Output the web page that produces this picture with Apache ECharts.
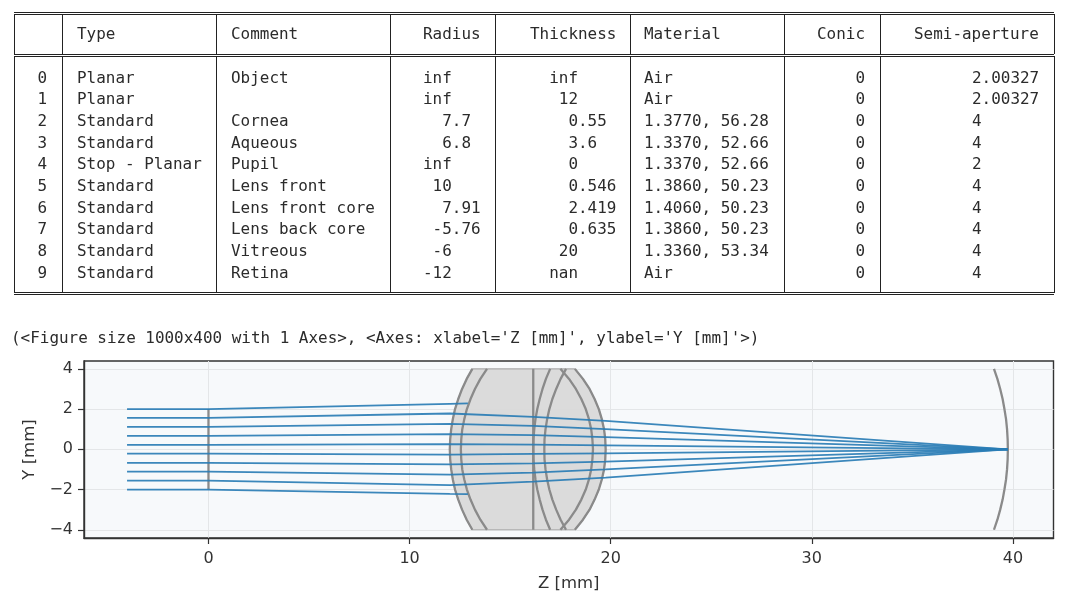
<!DOCTYPE html>
<html>
<head>
<meta charset="utf-8">
<style>
  html, body { margin: 0; padding: 0; background: #fff; }
  #chart { width: 1075px; height: 602px; }
</style>
<script src="https://cdn.jsdelivr.net/npm/echarts@6/dist/echarts.min.js"></script>
</head>
<body>
<div id="chart"></div>
<script>
// table text, padded the way the notebook printed it
var headers = ['Type', 'Comment', 'Radius', 'Thickness', 'Material', 'Conic', 'Semi-aperture'];
var rowIndex = ['0', '1', '2', '3', '4', '5', '6', '7', '8', '9'];
var types = ['Planar', 'Planar', 'Standard', 'Standard', 'Stop - Planar', 'Standard', 'Standard', 'Standard', 'Standard', 'Standard'];
var comments = ['Object', '', 'Cornea', 'Aqueous', 'Pupil', 'Lens front', 'Lens front core', 'Lens back core', 'Vitreous', 'Retina'];
var radii = ['inf', 'inf', '  7.7', '  6.8', 'inf', ' 10', '  7.91', ' -5.76', ' -6', '-12'];
var thicknesses = ['  inf', '   12', '    0.55', '    3.6', '    0', '    0.546', '    2.419', '    0.635', '   20', '  nan'];
var materials = ['Air', 'Air', '1.3770, 56.28', '1.3370, 52.66', '1.3370, 52.66', '1.3860, 50.23', '1.4060, 50.23', '1.3860, 50.23', '1.3360, 53.34', 'Air'];
var conics = ['0', '0', '0', '0', '0', '0', '0', '0', '0', '0'];
var semiApertures = ['2.00327', '2.00327', '4', '4', '2', '4', '4', '4', '4', '4'];
var reprLine = "(<Figure size 1000x400 with 1 Axes>, <Axes: xlabel='Z [mm]', ylabel='Y [mm]'>)";

// surface profiles: z [mm] at each height in profileY, upper half (the surfaces are symmetric)
var profileY = [0, 0.5, 1, 1.5, 2, 2.5, 3, 3.5, 4];
var corneaZ = [12.00, 12.02, 12.07, 12.15, 12.26, 12.42, 12.61, 12.84, 13.12];
var aqueousZ = [12.55, 12.57, 12.62, 12.72, 12.85, 13.03, 13.25, 13.52, 13.85];
var pupilZ = [16.15, 16.15, 16.15, 16.15, 16.15, 16.15, 16.15, 16.15, 16.15];
var lensFrontZ = [16.15, 16.16, 16.20, 16.26, 16.35, 16.47, 16.61, 16.78, 16.99];
var frontCoreZ = [16.70, 16.71, 16.76, 16.84, 16.95, 17.10, 17.29, 17.51, 17.78];
var backCoreZ = [19.12, 19.09, 19.03, 18.92, 18.76, 18.54, 18.27, 17.93, 17.50];
var vitreousZ = [19.75, 19.73, 19.67, 19.56, 19.41, 19.20, 18.95, 18.62, 18.22];
var retinaZ = [39.75, 39.74, 39.71, 39.66, 39.58, 39.49, 39.37, 39.23, 39.06];
var planeZ = [0, 0];
var planeY = [-2, 2];

// rays
var rayZ = [-4.05, 0, 12, 16.15, 19.75, 39.75];
var clippedRayZ = [-4.05, 0, 12, 12.9];
var rayTop = [2.00, 2.00, 2.26, 2.28];
var ray2 = [1.56, 1.56, 1.78, 1.61, 1.41, 0];
var ray3 = [1.11, 1.11, 1.26, 1.16, 1.00, 0];
var ray4 = [0.67, 0.67, 0.75, 0.70, 0.61, 0];
var ray5 = [0.22, 0.22, 0.26, 0.23, 0.20, 0];
var ray6 = [-0.22, -0.22, -0.26, -0.23, -0.20, 0];
var ray7 = [-0.67, -0.67, -0.75, -0.70, -0.61, 0];
var ray8 = [-1.11, -1.11, -1.26, -1.16, -1.00, 0];
var ray9 = [-1.56, -1.56, -1.78, -1.61, -1.41, 0];
var rayBottom = [-2.00, -2.00, -2.22, -2.23];

var xTicks = [0, 10, 20, 30, 40];
var yTicks = [-4, -2, 0, 2, 4];

/* z at +y and -y, bottom to top */
function fullProfile(zs) {
  var pts = [];
  for (var i = zs.length - 1; i > 0; i--) pts.push([zs[i], -profileY[i]]);
  for (var j = 0; j < zs.length; j++) pts.push([zs[j], profileY[j]]);
  return pts;
}

function zip(xs, ys) {
  return xs.map(function (x, i) { return [x, ys[i]]; });
}

var CHAR_W = 9.6;
var MONO = '15.95px "DejaVu Sans Mono", monospace';
var INK = '#2b2b2b';
var elements = [];

function addText(str, x, y) {
  var lead = str.length - str.replace(/^ +/, '').length;
  elements.push({
    type: 'text', silent: true,
    style: { text: str.trim(), x: x + lead * CHAR_W, y: y, font: MONO, fill: INK, textVerticalAlign: 'middle' }
  });
}

function addRule(x1, y1, x2, y2) {
  elements.push({
    type: 'line', silent: true,
    shape: { x1: x1, y1: y1, x2: x2, y2: y2 },
    style: { stroke: '#222', lineWidth: 1 }
  });
}

// table frame
[12.5, 14.5, 54.5, 56.5, 292.5, 294.5].forEach(function (y) { addRule(14, y, 1054, y); });
[14.5, 62.5, 216.5, 390.5, 495.5, 630.5, 784.5, 880.5, 1054.5].forEach(function (x) {
  addRule(x, 14, x, 54);
  addRule(x, 56, x, 293);
});

// table text
var headerX = [77, 231, 423, 530, 644, 817, 914];
headers.forEach(function (h, i) { addText(h, headerX[i], 34.5); });
var columns = [rowIndex, types, comments, radii, thicknesses, materials, conics, semiApertures];
var columnX = [37.5, 77, 231, 423, 530, 644, 855.5, 972];
var ROW_TOP = 78.5, ROW_H = 21.67;
columns.forEach(function (col, c) {
  col.forEach(function (val, r) {
    if (val) addText(val, columnX[c], ROW_TOP + r * ROW_H);
  });
});
addText(reprLine, 11, 338.5);

// lens body: cornea front going up, then the back surface coming down
var lensOutline = fullProfile(corneaZ).concat(fullProfile(vitreousZ).reverse());

function surfaceSeries(points) {
  return {
    type: 'line', data: points, showSymbol: false, silent: true, z: 3,
    lineStyle: { color: '#8a8a8a', width: 2.3 }
  };
}

function raySeries(zs, ys) {
  return {
    type: 'line', data: zip(zs, ys), showSymbol: false, silent: true, z: 4,
    lineStyle: { color: '#2a7db5', width: 1.8, opacity: 0.92 }
  };
}

var option = {
  animation: false,
  backgroundColor: '#fff',
  textStyle: { fontFamily: '"DejaVu Sans", sans-serif' },
  grid: {
    left: 84, right: 21.5, top: 361, bottom: 64,
    show: true, backgroundColor: '#f7f9fb', borderColor: '#333', borderWidth: 1.4
  },
  xAxis: {
    type: 'value', min: -6.19, max: 42.02,
    name: 'Z [mm]', nameLocation: 'middle', nameGap: 37,
    nameTextStyle: { fontSize: 16.5, color: '#333' },
    axisLine: { show: true, onZero: false, lineStyle: { color: '#333', width: 1.4 } },
    axisTick: { show: true, length: 6, customValues: xTicks, lineStyle: { color: '#333', width: 1.2 } },
    axisLabel: { customValues: xTicks, fontSize: 16, color: '#333', margin: 13 },
    splitLine: { show: true, lineStyle: { color: '#e4e6e8', width: 1 } }
  },
  yAxis: {
    type: 'value', min: -4.41, max: 4.39,
    name: 'Y [mm]', nameLocation: 'middle', nameGap: 46,
    nameTextStyle: { fontSize: 16.5, color: '#333' },
    axisLine: { show: true, onZero: false, lineStyle: { color: '#333', width: 1.4 } },
    axisTick: { show: true, length: 6, customValues: yTicks, lineStyle: { color: '#333', width: 1.2 } },
    axisLabel: {
      customValues: yTicks, fontSize: 16, color: '#333', margin: 11,
      formatter: function (v) { return String(v).replace('-', '\u2212'); }
    },
    splitLine: { show: true, lineStyle: { color: '#e4e6e8', width: 1 } }
  },
  graphic: { elements: elements },
  series: [
    {
      type: 'custom', data: lensOutline, silent: true, z: 2,
      encode: { x: 0, y: 1 },
      renderItem: function (params, api) {
        if (params.dataIndex !== 0) return;
        return {
          type: 'polygon',
          shape: { points: lensOutline.map(function (p) { return api.coord(p); }) },
          style: { fill: '#d9d9d9', stroke: '#a8a8a8', lineWidth: 1.2, opacity: 0.95 }
        };
      }
    },
    surfaceSeries(zip(planeZ, planeY)),
    surfaceSeries(fullProfile(corneaZ)),
    surfaceSeries(fullProfile(aqueousZ)),
    surfaceSeries(fullProfile(pupilZ)),
    surfaceSeries(fullProfile(lensFrontZ)),
    surfaceSeries(fullProfile(frontCoreZ)),
    surfaceSeries(fullProfile(backCoreZ)),
    surfaceSeries(fullProfile(vitreousZ)),
    surfaceSeries(fullProfile(retinaZ)),
    raySeries(clippedRayZ, rayTop),
    raySeries(rayZ, ray2),
    raySeries(rayZ, ray3),
    raySeries(rayZ, ray4),
    raySeries(rayZ, ray5),
    raySeries(rayZ, ray6),
    raySeries(rayZ, ray7),
    raySeries(rayZ, ray8),
    raySeries(rayZ, ray9),
    raySeries(clippedRayZ, rayBottom)
  ]
};

var chart = echarts.init(document.getElementById('chart'));
chart.setOption(option);
</script>
</body>
</html>
